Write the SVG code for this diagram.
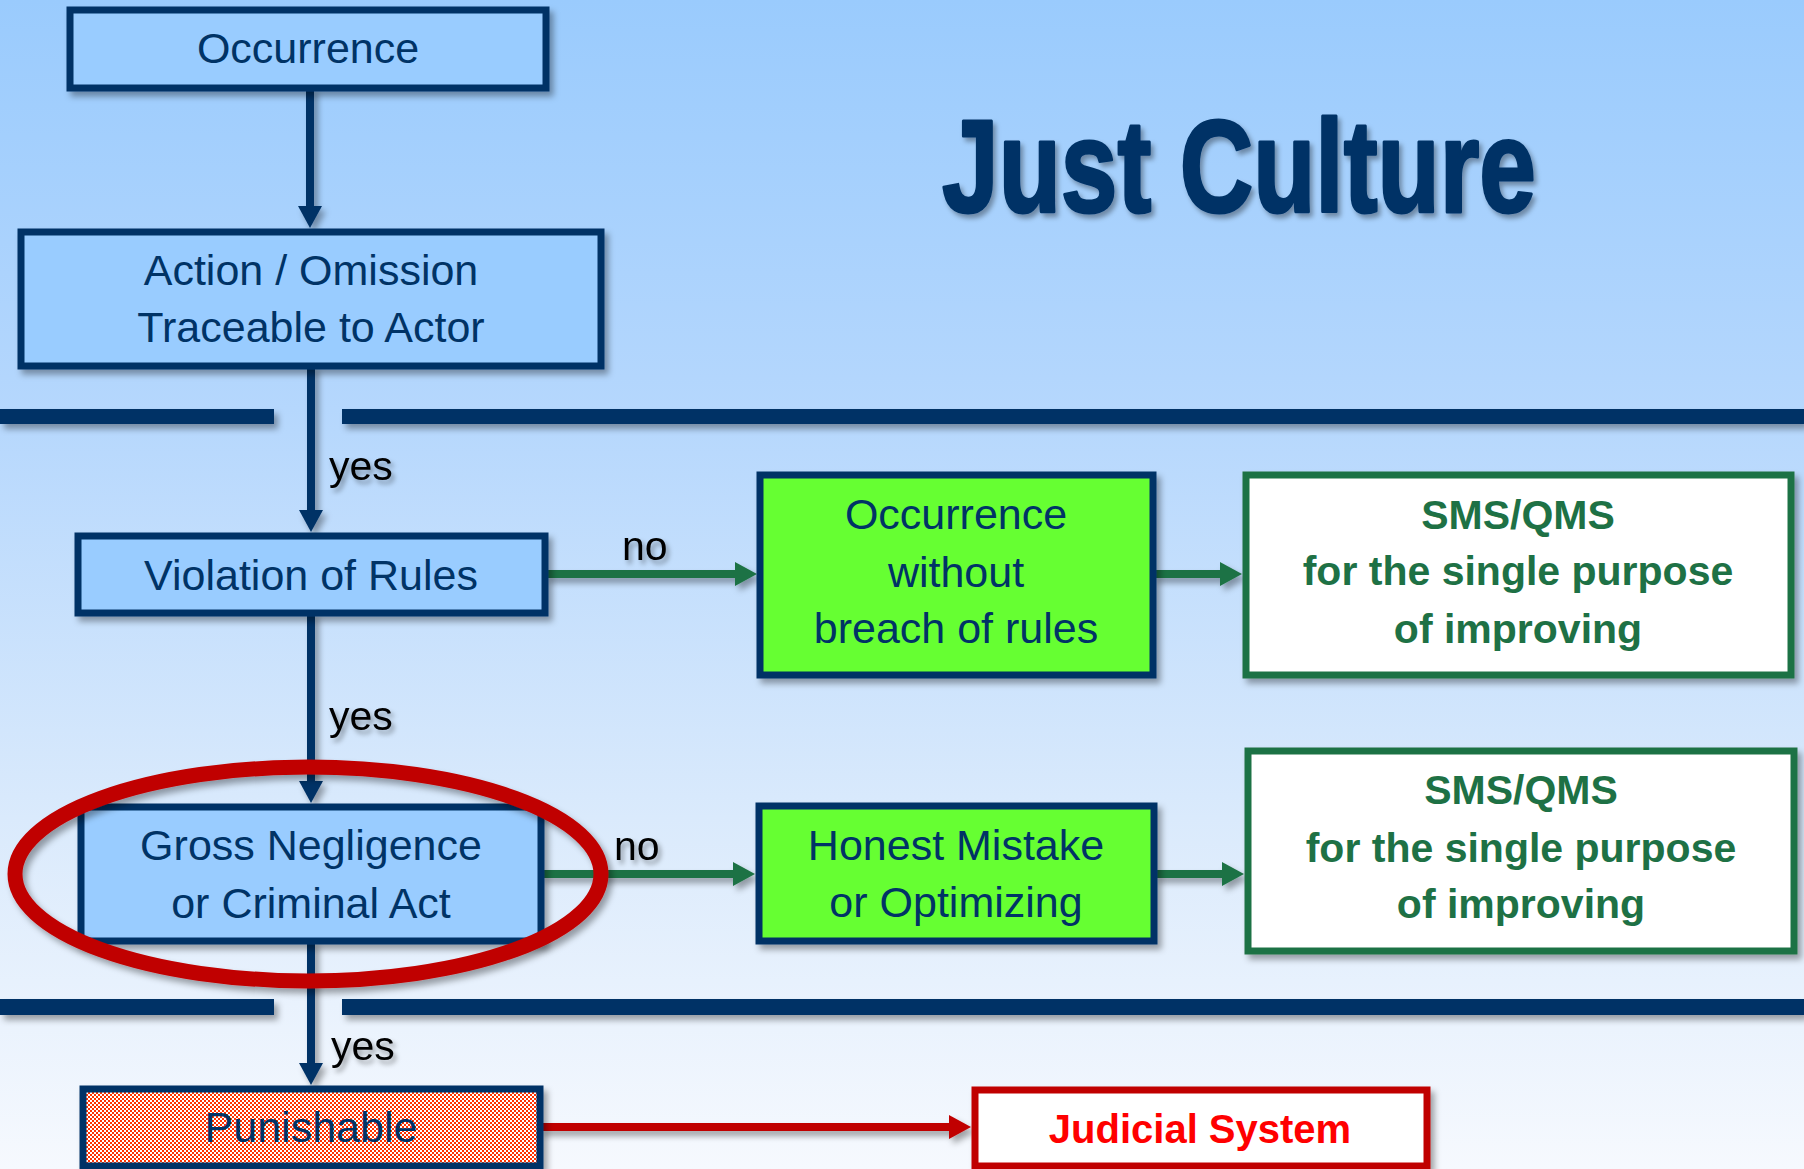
<svg xmlns="http://www.w3.org/2000/svg" width="1804" height="1169" viewBox="0 0 1804 1169">
<defs>
  <linearGradient id="bg" x1="0" y1="0" x2="0" y2="1">
    <stop offset="0" stop-color="#9ACBFD"/>
    <stop offset="0.35" stop-color="#B5D7FD"/>
    <stop offset="0.7" stop-color="#DAEAFC"/>
    <stop offset="1" stop-color="#F6F9FE"/>
  </linearGradient>
  <pattern id="checker" width="4" height="4" patternUnits="userSpaceOnUse">
    <rect width="4" height="4" fill="#FFFFFF"/>
    <rect width="2" height="2" fill="#FF3300"/>
    <rect x="2" y="2" width="2" height="2" fill="#FF3300"/>
  </pattern>
  <filter id="sh" x="-10%" y="-10%" width="125%" height="135%">
    <feDropShadow dx="4" dy="5" stdDeviation="3" flood-color="#000" flood-opacity="0.35"/>
  </filter>
  <filter id="tsh" x="-10%" y="-10%" width="130%" height="140%">
    <feDropShadow dx="3" dy="4" stdDeviation="2.5" flood-color="#000" flood-opacity="0.35"/>
  </filter>
  <marker id="ahNavy" markerUnits="userSpaceOnUse" markerWidth="24" markerHeight="24" viewBox="0 0 22 24" refX="2" refY="12" orient="auto">
    <path d="M0,0 L22,12 L0,24 z" fill="#003366"/>
  </marker>
  <marker id="ahGreen" markerUnits="userSpaceOnUse" markerWidth="24" markerHeight="24" viewBox="0 0 22 24" refX="2" refY="12" orient="auto">
    <path d="M0,0 L22,12 L0,24 z" fill="#1F7244"/>
  </marker>
  <marker id="ahRed" markerUnits="userSpaceOnUse" markerWidth="24" markerHeight="24" viewBox="0 0 22 24" refX="2" refY="12" orient="auto">
    <path d="M0,0 L22,12 L0,24 z" fill="#C00000"/>
  </marker>
</defs>
<style>
  .blue { fill: #99CCFF; stroke: #003366; stroke-width: 7; }
  .lime { fill: #66FF33; stroke: #003366; stroke-width: 7; }
  .sms { fill: #FFFFFF; stroke: #1F7244; stroke-width: 7; }
  .jud { fill: #FFFFFF; stroke: #C00000; stroke-width: 7; }
  .pun { fill: url(#checker); stroke: #003366; stroke-width: 7; }
  .t { font-family: "Liberation Sans", Arial, sans-serif; font-size: 43px; fill: #003366; text-anchor: middle; }
  .g { font-family: "Liberation Sans", Arial, sans-serif; font-size: 41px; font-weight: bold; fill: #1E7145; text-anchor: middle; }
  .r { font-family: "Liberation Sans", Arial, sans-serif; font-size: 40px; font-weight: bold; fill: #FF0000; text-anchor: middle; }
  .lbl { font-family: "Liberation Sans", Arial, sans-serif; font-size: 41px; fill: #000000; }
  .cn { fill: none; stroke: #003366; stroke-width: 8; }
  .cg { fill: none; stroke: #1F7244; stroke-width: 8; }
  .cr { fill: none; stroke: #C00000; stroke-width: 8; }
  .bar { fill: #003366; }
</style>
<rect x="0" y="0" width="1804" height="1169" fill="url(#bg)"/>

<g id="separators" filter="url(#sh)">
  <rect class="bar" x="0" y="409" width="274" height="15"/>
  <rect class="bar" x="342" y="409" width="1462" height="15"/>
  <rect class="bar" x="0" y="999" width="274" height="16"/>
  <rect class="bar" x="342" y="999" width="1462" height="16"/>
</g>

<g id="title" filter="url(#tsh)">
  <text x="942" y="212" font-family="'Liberation Sans', Arial, sans-serif" font-size="132" font-weight="bold" fill="#003366" stroke="#003366" stroke-width="3" stroke-linejoin="round" textLength="594" lengthAdjust="spacingAndGlyphs">Just Culture</text>
</g>

<g id="connectors" filter="url(#sh)">
  <line class="cn" x1="310" y1="88" x2="310" y2="208" marker-end="url(#ahNavy)"/>
  <line class="cn" x1="311" y1="366" x2="311" y2="512" marker-end="url(#ahNavy)"/>
  <line class="cn" x1="311" y1="613" x2="311" y2="783" marker-end="url(#ahNavy)"/>
  <line class="cn" x1="311" y1="941" x2="311" y2="1065" marker-end="url(#ahNavy)"/>
  <line class="cg" x1="545" y1="574" x2="737" y2="574" marker-end="url(#ahGreen)"/>
  <line class="cg" x1="1153" y1="574" x2="1222" y2="574" marker-end="url(#ahGreen)"/>
  <line class="cg" x1="541" y1="874" x2="735" y2="874" marker-end="url(#ahGreen)"/>
  <line class="cg" x1="1154" y1="874" x2="1224" y2="874" marker-end="url(#ahGreen)"/>
  <line class="cr" x1="540" y1="1127" x2="951" y2="1127" marker-end="url(#ahRed)"/>
</g>

<g id="labels" filter="url(#tsh)">
  <text class="lbl" x="329" y="480">yes</text>
  <text class="lbl" x="329" y="730">yes</text>
  <text class="lbl" x="331" y="1060">yes</text>
  <text class="lbl" x="622" y="560">no</text>
  <text class="lbl" x="614" y="860">no</text>
</g>

<g id="node-occurrence">
  <rect class="blue" x="70" y="10" width="476" height="78" filter="url(#sh)"/>
  <text class="t" x="308" y="63">Occurrence</text>
</g>

<g id="node-action">
  <rect class="blue" x="21" y="232" width="580" height="134" filter="url(#sh)"/>
  <text class="t" x="311" y="285">Action / Omission</text>
  <text class="t" x="311" y="342">Traceable to Actor</text>
</g>

<g id="node-violation">
  <rect class="blue" x="78" y="536" width="467" height="77" filter="url(#sh)"/>
  <text class="t" x="311" y="590">Violation of Rules</text>
</g>

<g id="node-gross">
  <rect class="blue" x="81" y="807" width="460" height="134" filter="url(#sh)"/>
  <text class="t" x="311" y="860">Gross Negligence</text>
  <text class="t" x="311" y="918">or Criminal Act</text>
</g>

<g id="node-punishable">
  <rect class="pun" x="83" y="1089" width="457" height="77" filter="url(#sh)"/>
  <text class="t" x="311" y="1142">Punishable</text>
</g>

<g id="node-nobreach">
  <rect class="lime" x="760" y="475" width="393" height="200" filter="url(#sh)"/>
  <text class="t" x="956" y="529">Occurrence</text>
  <text class="t" x="956" y="587">without</text>
  <text class="t" x="956" y="643">breach of rules</text>
</g>

<g id="node-honest">
  <rect class="lime" x="759" y="806" width="395" height="135" filter="url(#sh)"/>
  <text class="t" x="956" y="860">Honest Mistake</text>
  <text class="t" x="956" y="917">or Optimizing</text>
</g>

<g id="node-sms1">
  <rect class="sms" x="1246" y="475" width="545" height="200" filter="url(#sh)"/>
  <text class="g" x="1518" y="529">SMS/QMS</text>
  <text class="g" x="1518" y="585">for the single purpose</text>
  <text class="g" x="1518" y="643">of improving</text>
</g>

<g id="node-sms2">
  <rect class="sms" x="1248" y="751" width="546" height="200" filter="url(#sh)"/>
  <text class="g" x="1521" y="804">SMS/QMS</text>
  <text class="g" x="1521" y="862">for the single purpose</text>
  <text class="g" x="1521" y="918">of improving</text>
</g>

<g id="node-judicial">
  <rect class="jud" x="975" y="1090" width="452" height="76" filter="url(#sh)"/>
  <text class="r" x="1200" y="1143">Judicial System</text>
</g>

<g id="highlight" filter="url(#sh)">
  <ellipse cx="308" cy="874" rx="293" ry="107" fill="none" stroke="#C00000" stroke-width="15"/>
</g>
</svg>
